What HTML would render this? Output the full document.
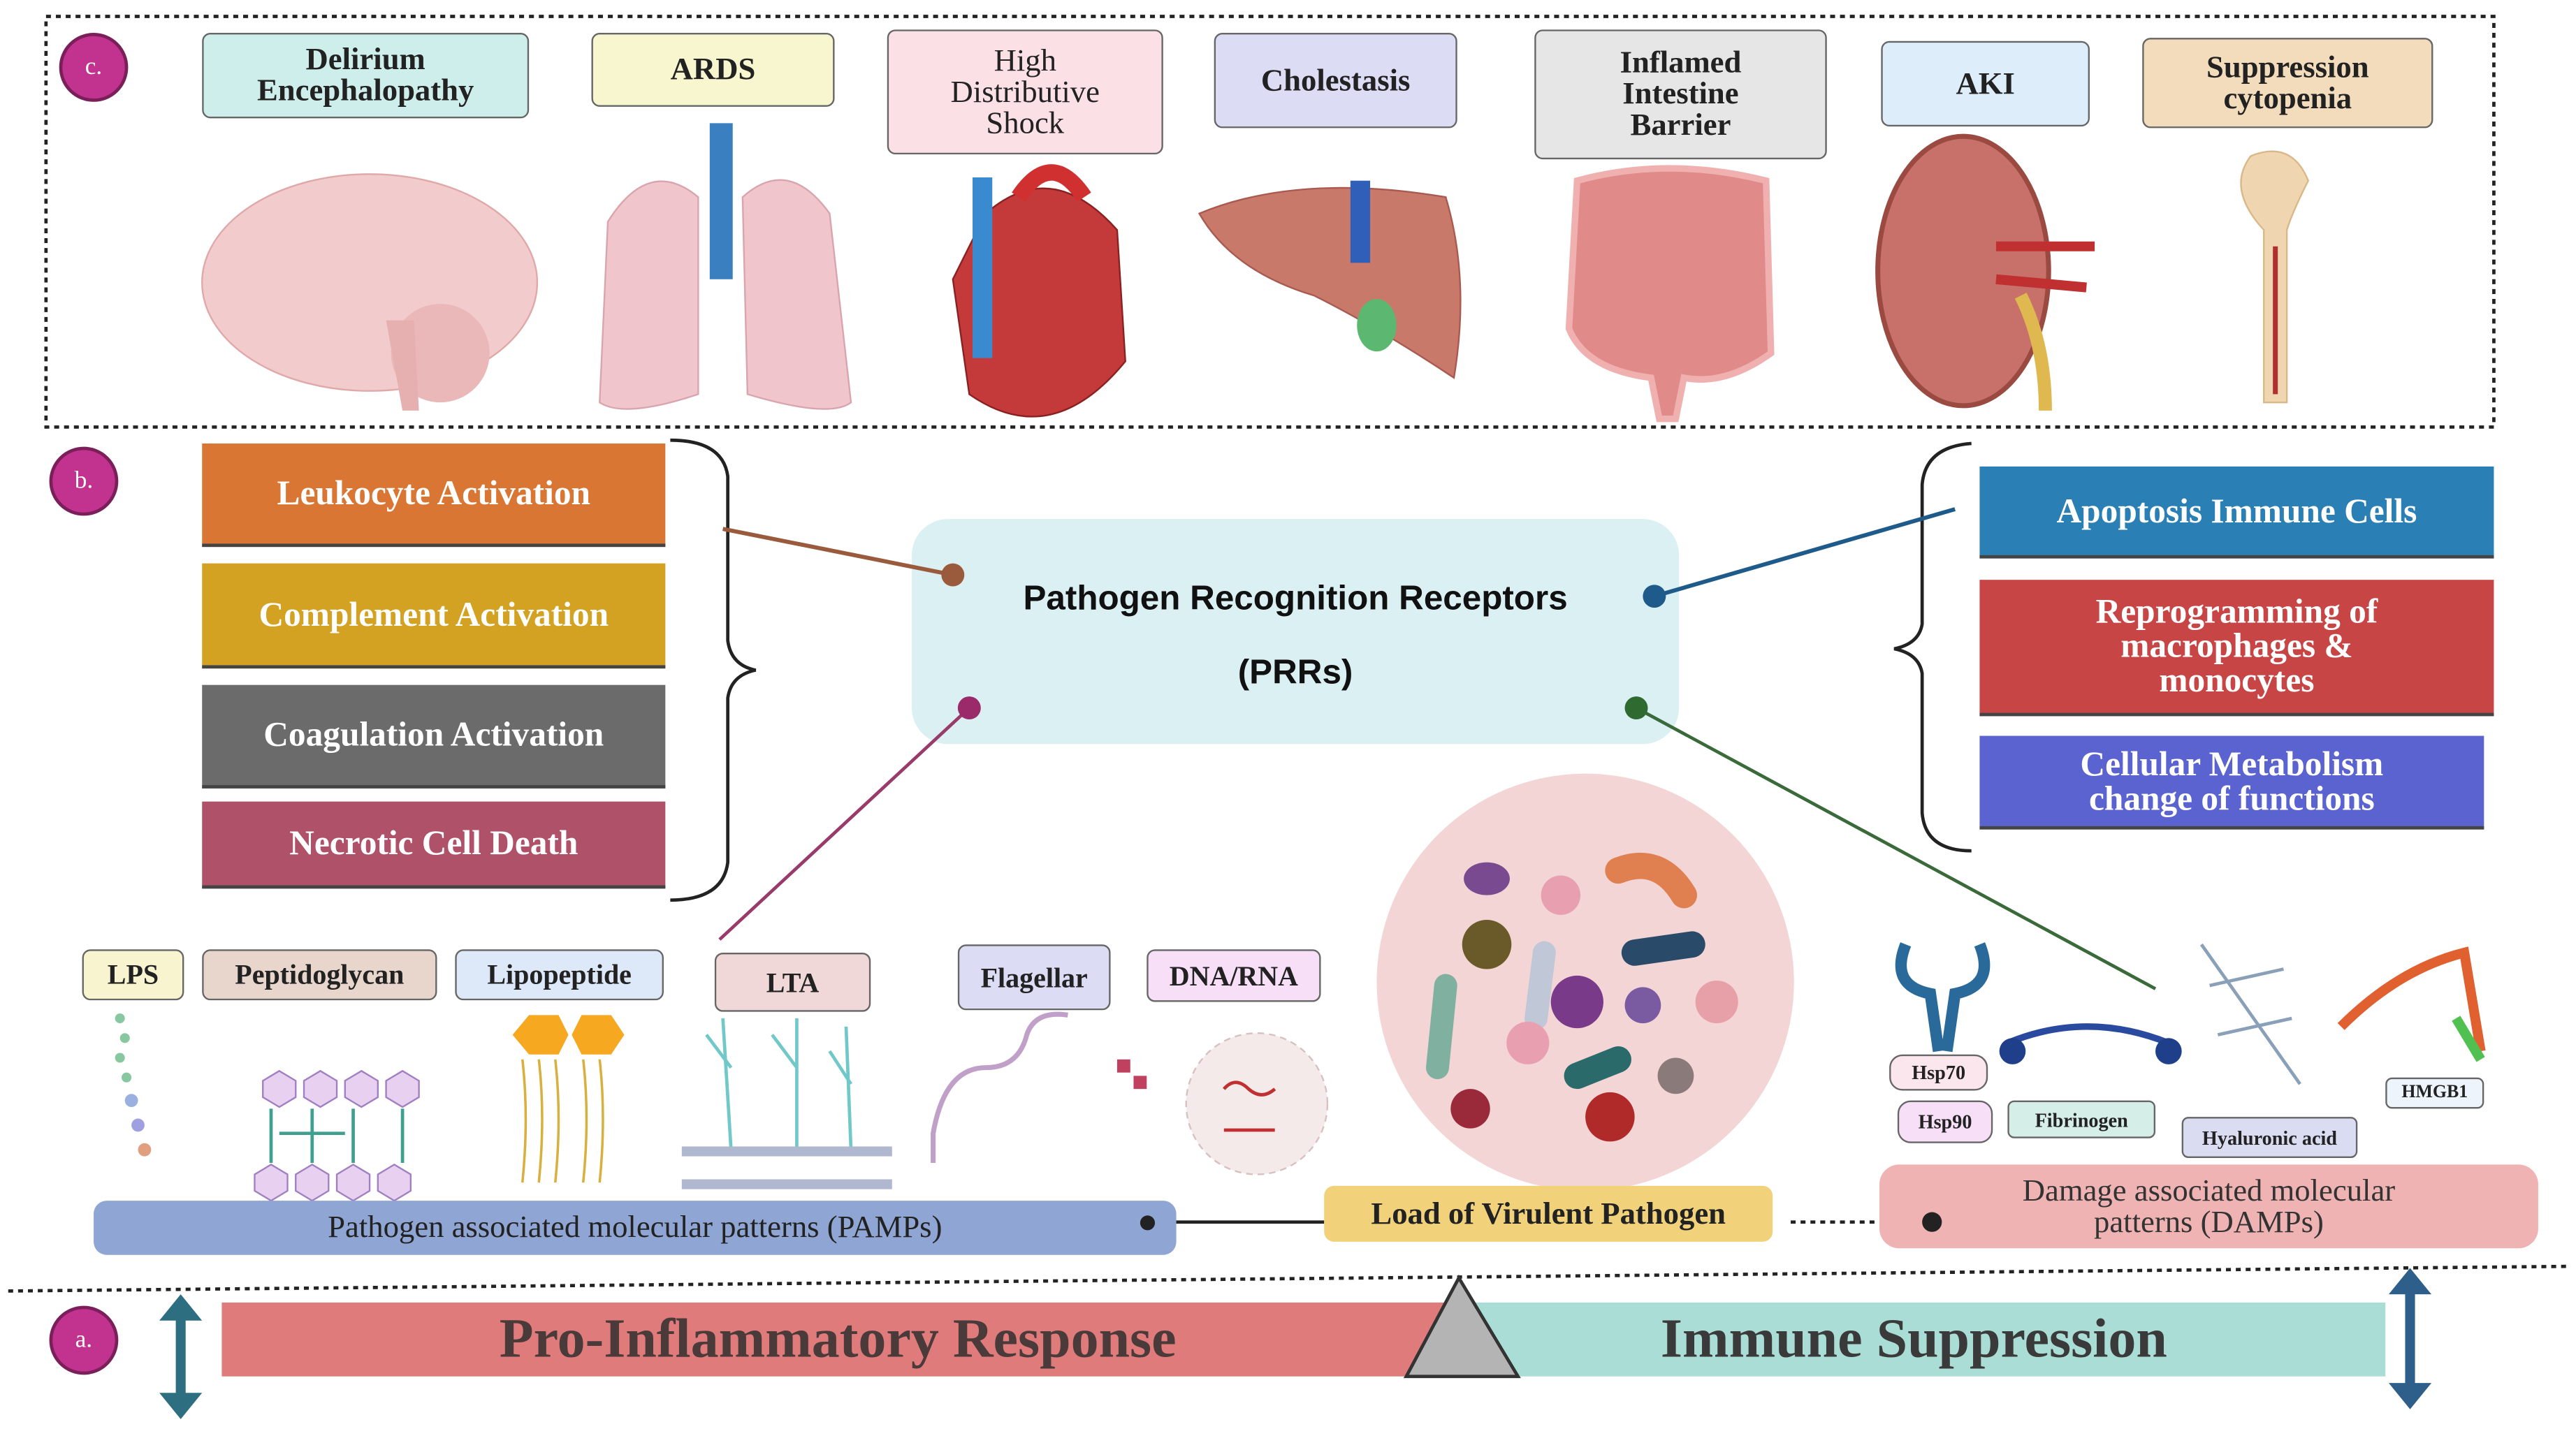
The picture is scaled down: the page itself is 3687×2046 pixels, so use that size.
<!DOCTYPE html>
<html><head><meta charset="utf-8"><style>
html,body{margin:0;padding:0;background:#fff;}
body{width:3687px;height:2046px;overflow:hidden;position:relative;}
#s{position:absolute;left:0;top:0;width:1568px;height:870px;transform:scale(2.3514,2.3517);transform-origin:0 0;font-family:"Liberation Serif",serif;}
.a{position:absolute;box-sizing:border-box;display:flex;align-items:center;justify-content:center;text-align:center;line-height:1.0;}
.lb{border:1.5px solid #666;border-radius:5px;font-weight:bold;font-size:19px;color:#222;}
.sb{color:#fff;font-size:21px;font-weight:bold;border-bottom:2px solid #444;}
.pl{border:1.5px solid #666;border-radius:5px;font-weight:bold;font-size:17px;color:#222;}
.dl{border:1.5px solid #666;border-radius:8px;font-size:12px;color:#222;font-weight:bold;}
.c{position:absolute;border-radius:50%;background:#c2338f;border:2px solid #7a1f5a;color:#fff;font-size:15px;display:flex;align-items:center;justify-content:center;box-sizing:border-box;}
.dot{position:absolute;border-radius:50%;background:#222;}
</style></head><body><div id="s">
<svg width="1568" height="870" style="position:absolute;left:0;top:0">
<rect x="28" y="10" width="1490" height="250" fill="none" stroke="#222" stroke-width="2" stroke-dasharray="3,3"/>
<ellipse cx="225" cy="172" rx="102" ry="66" fill="#f2cccc" stroke="#e0a8a8"/>
<ellipse cx="268" cy="215" rx="30" ry="30" fill="#eab8b8"/>
<path d="M235 195 L245 250 L255 250 L252 195Z" fill="#e6b0b0"/>
<path d="M370 135 Q395 95 425 120 L425 240 Q380 255 365 245Z" fill="#f0c6cc" stroke="#d9a4ae"/>
<path d="M518 245 Q505 255 455 240 L452 120 Q480 95 505 130Z" fill="#f0c6cc" stroke="#d9a4ae"/>
<rect x="432" y="75" width="14" height="95" fill="#3a7fc0"/>
<path d="M600 130 Q640 95 680 140 L685 220 Q640 275 590 240 L580 170Z" fill="#c43a3a" stroke="#8a2020"/>
<rect x="592" y="108" width="12" height="110" fill="#3a8ad0"/>
<path d="M620 120 Q640 90 660 120" stroke="#d03030" stroke-width="10" fill="none"/>
<path d="M730 130 Q790 105 880 120 Q895 170 885 230 Q840 200 800 180 Q750 165 730 130Z" fill="#c8796a" stroke="#a85a50"/>
<rect x="822" y="110" width="12" height="50" fill="#2f5fb8"/>
<ellipse cx="838" cy="198" rx="12" ry="16" fill="#5cb870"/>
<path d="M960 110 Q1015 95 1075 110 L1078 215 Q1050 235 1025 230 L1020 255 L1010 255 L1005 230 Q965 225 955 200Z" fill="#e08a8a" stroke="#f0b0b0" stroke-width="4"/>
<ellipse cx="1195" cy="165" rx="52" ry="82" fill="#c8706a" stroke="#9a4a40" stroke-width="3"/>
<path d="M1215 150 L1275 150 M1215 170 L1270 175" stroke="#c03030" stroke-width="6"/>
<path d="M1230 180 Q1245 210 1245 250" stroke="#e0b850" stroke-width="8" fill="none"/>
<path d="M1370 95 Q1395 85 1405 110 Q1395 130 1392 140 L1392 245 L1378 245 L1378 140 Q1355 115 1370 95Z" fill="#f0d6b0" stroke="#d8b888"/>
<line x1="1385" y1="150" x2="1385" y2="240" stroke="#b03030" stroke-width="3"/>
<path d="M408 268 Q440 268 443 290 L443 390 Q445 405 460 408 Q445 411 443 425 L443 525 Q440 548 408 548" fill="none" stroke="#222" stroke-width="2"/>
<path d="M1200 270 Q1172 272 1170 295 L1170 380 Q1168 392 1153 395 Q1168 398 1170 410 L1170 495 Q1172 518 1200 518" fill="none" stroke="#222" stroke-width="2"/>
<rect x="555" y="316" width="467" height="137" rx="22" fill="#dbf0f3"/>
<line x1="440" y1="322" x2="580" y2="350" stroke="#9a5a3c" stroke-width="2.5"/>
<line x1="1007" y1="363" x2="1190" y2="310" stroke="#1e5b8a" stroke-width="2.5"/>
<line x1="590" y1="431" x2="438" y2="572" stroke="#9a3a6a" stroke-width="2"/>
<line x1="996" y1="431" x2="1312" y2="602" stroke="#3a6a3a" stroke-width="2"/>
<circle cx="580" cy="350" r="7" fill="#9a5a3c"/>
<circle cx="1007" cy="363" r="7" fill="#1e5b8a"/>
<circle cx="590" cy="431" r="7" fill="#9a2a6a"/>
<circle cx="996" cy="431" r="7" fill="#2f6a30"/>
<circle cx="965" cy="598" r="127" fill="#f3d5d5"/>
<ellipse cx="905" cy="535" rx="14" ry="10" fill="#7a4a90"/>
<circle cx="950" cy="545" r="12" fill="#e8a0b0"/>
<path d="M985 530 Q1010 520 1025 545" stroke="#e08050" stroke-width="16" fill="none" stroke-linecap="round"/>
<circle cx="905" cy="575" r="15" fill="#6a5a2a"/>
<path d="M940 580 L935 620" stroke="#c0c8d8" stroke-width="14" stroke-linecap="round"/>
<path d="M995 580 L1030 575" stroke="#2a4a6a" stroke-width="16" stroke-linecap="round"/>
<circle cx="960" cy="610" r="16" fill="#7a3a8a"/>
<circle cx="1000" cy="612" r="11" fill="#7a5aa0"/>
<circle cx="1045" cy="610" r="13" fill="#e8a0a8"/>
<path d="M880 600 L875 650" stroke="#80b0a0" stroke-width="14" stroke-linecap="round"/>
<circle cx="930" cy="635" r="13" fill="#e8a0b0"/>
<path d="M960 655 L985 645" stroke="#2a6a6a" stroke-width="16" stroke-linecap="round"/>
<circle cx="1020" cy="655" r="11" fill="#8a7a7a"/>
<circle cx="895" cy="675" r="12" fill="#9a2a3a"/>
<circle cx="980" cy="680" r="15" fill="#b02a2a"/>
<g fill="#88c8a0"><circle cx="73" cy="620" r="3"/><circle cx="76" cy="632" r="3"/><circle cx="73" cy="644" r="3"/><circle cx="77" cy="656" r="3"/><circle cx="80" cy="670" r="4" fill="#9ab0e0"/><circle cx="84" cy="685" r="4" fill="#a0a0e0"/><circle cx="88" cy="700" r="4" fill="#e0a080"/></g>
<g fill="#e8d0f0" stroke="#a080c0"><polygon points="160,658 170,652 180,658 180,668 170,674 160,668"/><polygon points="185,658 195,652 205,658 205,668 195,674 185,668"/><polygon points="210,658 220,652 230,658 230,668 220,674 210,668"/><polygon points="235,658 245,652 255,658 255,668 245,674 235,668"/>
<polygon points="155,715 165,709 175,715 175,725 165,731 155,725"/><polygon points="180,715 190,709 200,715 200,725 190,731 180,725"/><polygon points="205,715 215,709 225,715 225,725 215,731 205,725"/><polygon points="230,715 240,709 250,715 250,725 240,731 230,725"/></g>
<path d="M165 675 L165 708 M190 675 L190 708 M215 675 L215 708 M245 675 L245 708 M170 690 L210 690" stroke="#40a090" stroke-width="2"/>
<polygon points="312,630 322,618 340,618 346,630 340,642 322,642" fill="#f5a820"/><polygon points="348,630 354,618 372,618 380,630 372,642 354,642" fill="#f5a820"/>
<g stroke="#d8b040" stroke-width="1.5" fill="none"><path d="M318 645 Q322 680 318 720"/><path d="M328 645 Q332 680 328 720"/><path d="M338 645 Q342 680 338 720"/><path d="M355 645 Q359 680 355 720"/><path d="M365 645 Q369 680 365 720"/></g>
<g stroke="#70c8c8" stroke-width="2" fill="none"><path d="M440 620 L445 700 M445 650 L430 630 M485 620 L485 700 M485 650 L470 630 M515 625 L518 700 M518 660 L505 640"/></g>
<rect x="415" y="698" width="128" height="6" fill="#b0b8d0"/><rect x="415" y="718" width="128" height="6" fill="#b0b8d0"/>
<path d="M568 708 L568 690 Q575 650 600 650 Q620 650 625 630 Q630 615 650 618" stroke="#c0a0c8" stroke-width="3" fill="none"/>
<circle cx="765" cy="672" r="43" fill="#f5eaea" stroke="#d8c0c0" stroke-dasharray="4,3"/>
<path d="M745 663 Q752 655 760 663 Q768 670 776 663 M745 688 L776 688" stroke="#c03030" stroke-width="2" fill="none"/>
<rect x="680" y="645" width="8" height="8" fill="#c04060"/><rect x="690" y="655" width="8" height="8" fill="#c04060"/>
<path d="M1160 575 Q1150 600 1175 605 L1180 640 M1205 575 Q1215 600 1190 605 L1185 640" stroke="#2a6a9a" stroke-width="7" fill="none"/>
<path d="M1222 635 Q1270 615 1320 635" stroke="#2a4aa0" stroke-width="4" fill="none"/><circle cx="1225" cy="640" r="8" fill="#1f3f8a"/><circle cx="1320" cy="640" r="8" fill="#1f3f8a"/>
<path d="M1340 575 L1400 660 M1345 600 L1390 590 M1350 630 L1395 620" stroke="#8aa0b8" stroke-width="2" fill="none"/>
<path d="M1425 625 Q1460 590 1500 580 L1510 640" stroke="#e06030" stroke-width="6" fill="none"/><path d="M1495 620 L1510 645" stroke="#50c050" stroke-width="6"/>
<line x1="698" y1="744" x2="806" y2="744" stroke="#222" stroke-width="2"/>
<line x1="1090" y1="744" x2="1175" y2="744" stroke="#222" stroke-width="2" stroke-dasharray="3,3"/>
<line x1="5" y1="786" x2="1562" y2="771" stroke="#222" stroke-width="2" stroke-dasharray="3,3"/>
<rect x="135" y="793" width="750" height="45" fill="#e07b7b"/>
<rect x="885" y="793" width="567" height="45" fill="#a9ddd5"/>
<polygon points="888,778 856,838 924,838" fill="#b4b4b4" stroke="#333" stroke-width="2"/>
<line x1="110" y1="800" x2="110" y2="852" stroke="#2d6f80" stroke-width="6"/>
<polygon points="97,804 110,788 123,804" fill="#2d6f80"/><polygon points="97,848 110,864 123,848" fill="#2d6f80"/>
<line x1="1467" y1="784" x2="1467" y2="846" stroke="#2d5f8a" stroke-width="6"/>
<polygon points="1454,788 1467,772 1480,788" fill="#2d5f8a"/><polygon points="1454,842 1467,858 1480,842" fill="#2d5f8a"/>
</svg>
<div class="c" style="left:36px;top:20px;width:42px;height:42px">c.</div>
<div class="c" style="left:30px;top:272px;width:42px;height:42px">b.</div>
<div class="c" style="left:30px;top:795px;width:42px;height:42px">a.</div>
<div class="a lb" style="left:123px;top:20px;width:199px;height:52px;background:#cdeeea">Delirium<br>Encephalopathy</div>
<div class="a lb" style="left:360px;top:20px;width:148px;height:45px;background:#f7f6cf">ARDS</div>
<div class="a lb" style="left:540px;top:18px;width:168px;height:76px;background:#fbe1e6;font-weight:normal">High<br>Distributive<br>Shock</div>
<div class="a lb" style="left:739px;top:20px;width:148px;height:58px;background:#dcdcf5">Cholestasis</div>
<div class="a lb" style="left:934px;top:18px;width:178px;height:79px;background:#e6e6e6">Inflamed<br>Intestine<br>Barrier</div>
<div class="a lb" style="left:1145px;top:25px;width:127px;height:52px;background:#ddeefa">AKI</div>
<div class="a lb" style="left:1304px;top:23px;width:177px;height:55px;background:#f3dcbc">Suppression<br>cytopenia</div>
<div class="a sb" style="left:123px;top:270px;width:282px;height:63px;background:#d97634">Leukocyte Activation</div>
<div class="a sb" style="left:123px;top:343px;width:282px;height:64px;background:#d4a222">Complement Activation</div>
<div class="a sb" style="left:123px;top:417px;width:282px;height:63px;background:#6b6b6b">Coagulation Activation</div>
<div class="a sb" style="left:123px;top:488px;width:282px;height:53px;background:#b0516a">Necrotic Cell Death</div>
<div class="a sb" style="left:1205px;top:284px;width:313px;height:56px;background:#2a7fb5">Apoptosis Immune Cells</div>
<div class="a sb" style="left:1205px;top:353px;width:313px;height:83px;background:#c84545">Reprogramming of<br>macrophages &amp;<br>monocytes</div>
<div class="a sb" style="left:1205px;top:448px;width:307px;height:57px;background:#5b63d0">Cellular Metabolism<br>change of functions</div>
<div class="a" style="left:555px;top:342px;width:467px;height:90px;font-family:'Liberation Sans',sans-serif;font-weight:bold;font-size:21px;line-height:45px;color:#111">Pathogen Recognition Receptors<br>(PRRs)</div>
<div class="a pl" style="left:50px;top:578px;width:62px;height:31px;background:#f8f4d0">LPS</div>
<div class="a pl" style="left:123px;top:578px;width:143px;height:31px;background:#e8d6cc">Peptidoglycan</div>
<div class="a pl" style="left:277px;top:578px;width:127px;height:31px;background:#dde8f8">Lipopeptide</div>
<div class="a pl" style="left:435px;top:580px;width:95px;height:36px;background:#f1d8d8">LTA</div>
<div class="a pl" style="left:583px;top:575px;width:93px;height:40px;background:#dcdcf5">Flagellar</div>
<div class="a pl" style="left:698px;top:578px;width:106px;height:32px;background:#f7e0f7">DNA/RNA</div>
<div class="a dl" style="left:1150px;top:642px;width:60px;height:22px;background:#fbe6ee">Hsp70</div>
<div class="a dl" style="left:1155px;top:670px;width:58px;height:26px;background:#f7e0f7">Hsp90</div>
<div class="a dl" style="left:1222px;top:670px;width:90px;height:23px;background:#d6eee8;border-radius:4px">Fibrinogen</div>
<div class="a dl" style="left:1328px;top:680px;width:107px;height:25px;background:#dadcf2;border-radius:4px">Hyaluronic acid</div>
<div class="a dl" style="left:1452px;top:656px;width:60px;height:19px;background:#eef4fb;border-radius:4px;font-size:11px">HMGB1</div>
<div class="a" style="left:57px;top:731px;width:659px;height:33px;background:#8fa6d4;border-radius:8px;font-size:19px;color:#222">Pathogen associated molecular patterns (PAMPs)</div>
<div class="a" style="left:806px;top:722px;width:273px;height:34px;background:#f1d27a;border-radius:6px;font-size:19px;font-weight:bold;color:#222">Load of Virulent Pathogen</div>
<div class="a" style="left:1144px;top:709px;width:401px;height:51px;background:#f0b3b3;border-radius:12px;font-size:19px;color:#333">Damage associated molecular<br>patterns (DAMPs)</div>
<div class="dot" style="left:694px;top:740px;width:9px;height:9px"></div>
<div class="dot" style="left:1170px;top:738px;width:12px;height:12px"></div>
<div class="a" style="left:135px;top:793px;width:750px;height:45px;font-size:34px;color:#4a3a3a;font-weight:bold">Pro-Inflammatory Response</div>
<div class="a" style="left:930px;top:793px;width:470px;height:45px;font-size:34px;color:#3a3a3a;font-weight:bold">Immune Suppression</div>
</div></body></html>
